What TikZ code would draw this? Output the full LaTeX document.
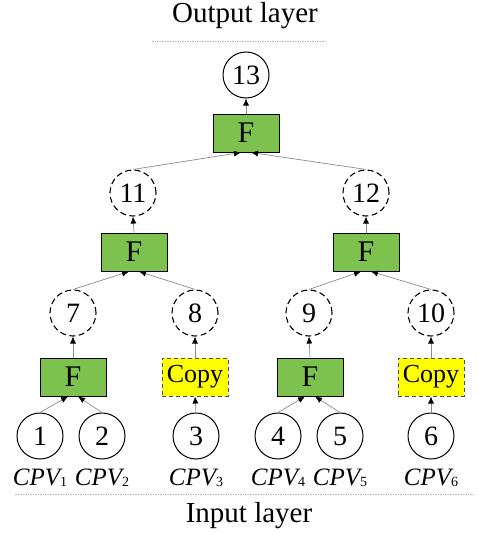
\documentclass[tikz,border=0pt]{standalone}
\usepackage{fontspec}
\setmainfont{Liberation Serif}
\usetikzlibrary{arrows.meta}
\definecolor{FuncGreen}{HTML}{7DC24E}
\definecolor{CopyYellow}{HTML}{FFFF00}
\definecolor{EdgeGray}{HTML}{8C8C8C}
\definecolor{RuleGray}{HTML}{B4B4B4}
\tikzset{
  leaf/.style={draw, circle, line width=1pt, minimum size=46pt, inner sep=0pt, font=\fontsize{28}{32}\selectfont},
  hidden/.style={leaf, line width=1.1pt, dash pattern=on 6pt off 3.5pt},
  func/.style={draw, line width=1pt, fill=FuncGreen, minimum width=66pt, minimum height=38pt, inner sep=0pt, font=\fontsize{30}{32}\selectfont},
  copybox/.style={func, draw=black!70, fill=CopyYellow, dash pattern=on 4pt off 3pt, font=\fontsize{26}{30}\selectfont},
  feed/.style={-{Latex[length=7pt, width=6pt, color=black]}, draw=EdgeGray, line width=0.7pt},
  cpv/.style={font=\fontsize{25}{28}\selectfont, inner sep=0pt},
  layer/.style={font=\fontsize{29}{34}\selectfont, inner sep=0pt},
  rule/.style={draw=RuleGray, line width=0.8pt, dash pattern=on 1.5pt off 1pt}
}
\newcommand{\cpvname}[1]{{\itshape CPV}\raisebox{-1pt}{\fontsize{14}{14}\selectfont #1}}

\begin{document}
\begin{tikzpicture}[x=1pt, y=-1pt]
\useasboundingbox (0,0) rectangle (477,535);

% output side
\node[layer] (outlabel) at (245,16) {Output layer};
\draw[rule] (152,41) -- (326,41);
\node[leaf] (n13) at (246,75) {13};
\node[func] (f13) at (246,133) {F};

% hidden layers
\node[hidden] (n11) at (133,193) {11};
\node[hidden] (n12) at (366,193) {12};
\node[func] (f11) at (134,252) {F};
\node[func] (f12) at (366,252) {F};

\node[hidden] (n7) at (73,313) {7};
\node[hidden] (n8) at (195,313) {8};
\node[hidden] (n9) at (309,313) {9};
\node[hidden] (n10) at (431,313) {10};
\node[func] (f7) at (73,377) {F};
\node[copybox] (f8) at (195,377) {Copy};
\node[func] (f9) at (310,377) {F};
\node[copybox] (f10) at (431,377) {Copy};

% input side
\node[leaf] (n1) at (40,436) {1};
\node[leaf] (n2) at (102,436) {2};
\node[leaf] (n3) at (196,436) {3};
\node[leaf] (n4) at (278,436) {4};
\node[leaf] (n5) at (340,436) {5};
\node[leaf] (n6) at (431,436) {6};

\node[cpv] (p1) at (40,478) {\cpvname{1}};
\node[cpv] (p2) at (102,478) {\cpvname{2}};
\node[cpv] (p3) at (196,478) {\cpvname{3}};
\node[cpv] (p4) at (278,478) {\cpvname{4}};
\node[cpv] (p5) at (340,478) {\cpvname{5}};
\node[cpv] (p6) at (431,478) {\cpvname{6}};

\draw[rule] (15,494) -- (474,494);
\node[layer] (inlabel) at (249,516) {Input layer};

% connections
\draw[feed] (n1.north) -- ([xshift=-5pt]f7.south);
\draw[feed] (n2.north) -- ([xshift=5pt]f7.south);
\draw[feed] (n3.north) -- (f8.south);
\draw[feed] (n4.north) -- ([xshift=-5pt]f9.south);
\draw[feed] (n5.north) -- ([xshift=5pt]f9.south);
\draw[feed] (n6.north) -- (f10.south);

\draw[feed] (f7.north) -- (n7.south);
\draw[feed] (f8.north) -- (n8.south);
\draw[feed] (f9.north) -- (n9.south);
\draw[feed] (f10.north) -- (n10.south);

\draw[feed] (n7.north) -- ([xshift=-5pt]f11.south);
\draw[feed] (n8.north) -- ([xshift=5pt]f11.south);
\draw[feed] (n9.north) -- ([xshift=-5pt]f12.south);
\draw[feed] (n10.north) -- ([xshift=5pt]f12.south);

\draw[feed] (f11.north) -- (n11.south);
\draw[feed] (f12.north) -- (n12.south);

\draw[feed] (n11.north) -- ([xshift=-5pt]f13.south);
\draw[feed] (n12.north) -- ([xshift=5pt]f13.south);
\draw[feed] (f13.north) -- (n13.south);
\end{tikzpicture}
\end{document}
